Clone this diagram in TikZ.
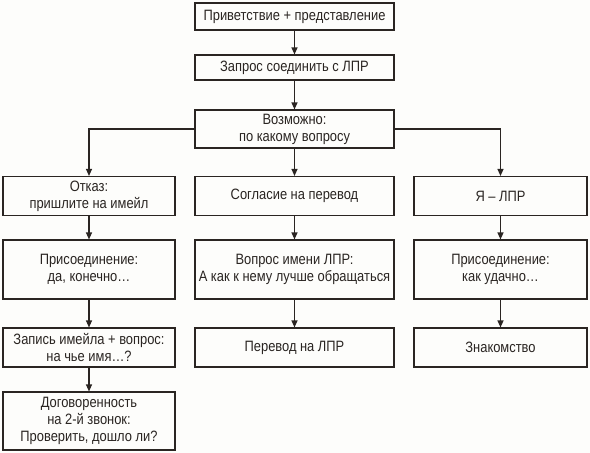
\documentclass[tikz,border=0pt]{standalone}
\usepackage{fontspec}
\setmainfont{Liberation Sans}[FakeStretch=0.86]
\usetikzlibrary{arrows.meta}
\definecolor{bg}{HTML}{FDFDFB}
\definecolor{ink}{HTML}{2A2522}
\begin{document}
\begin{tikzpicture}[x=1pt,y=-1pt,
  box/.style={draw=ink,line width=1.1pt,inner sep=0pt,align=center,text=ink,
    font=\fontsize{15}{17}\selectfont},
  conn/.style={draw=ink,line width=1.1pt,-{Triangle[length=7pt,width=6pt]}}]
\fill[bg] (0,0) rectangle (590,453);
\useasboundingbox (0,0) rectangle (590,453);
% top column
\node[box,minimum width=199pt,minimum height=27pt] (b1) at (294.5,16.5) {Приветствие + представление};
\node[box,minimum width=199pt,minimum height=25pt] (b2) at (294.5,67.5) {Запрос соединить с ЛПР};
\node[box,minimum width=199pt,minimum height=38pt] (b3) at (294.5,129) {Возможно:\\по какому вопросу};
% left column
\node[box,minimum width=172pt,minimum height=39pt] (l1) at (89,196) {Отказ:\\пришлите на имейл};
\node[box,minimum width=172pt,minimum height=59pt] (l2) at (89,269.5) {Присоединение:\\да, конечно…};
\node[box,minimum width=172pt,minimum height=39pt] (l3) at (89,347.5) {Запись имейла + вопрос:\\на чье имя…?};
\node[box,minimum width=172pt,minimum height=58pt] (l4) at (89,421) {Договоренность\\на 2-й звонок:\\Проверить, дошло ли?};
% middle column
\node[box,minimum width=199pt,minimum height=39pt] (m1) at (294.5,196) {Согласие на перевод};
\node[box,minimum width=199pt,minimum height=59pt] (m2) at (294.5,269.5) {Вопрос имени ЛПР:\\А как к нему лучше обращаться};
\node[box,minimum width=199pt,minimum height=39pt] (m3) at (294.5,347.5) {Перевод на ЛПР};
% right column
\node[box,minimum width=173pt,minimum height=39pt] (r1) at (500.5,196) {Я – ЛПР};
\node[box,minimum width=173pt,minimum height=59pt] (r2) at (500.5,269.5) {Присоединение:\\как удачно…};
\node[box,minimum width=173pt,minimum height=39pt] (r3) at (500.5,347.5) {Знакомство};
% connectors
\draw[conn] (b1) -- (b2);
\draw[conn] (b2) -- (b3);
\draw[conn] (b3) -- (m1);
\draw[conn] (b3.west) -| (l1.north);
\draw[conn] (b3.east) -| (r1.north);
\draw[conn] (l1) -- (l2);
\draw[conn] (l2) -- (l3);
\draw[conn] (l3) -- (l4);
\draw[conn] (m1) -- (m2);
\draw[conn] (m2) -- (m3);
\draw[conn] (r1) -- (r2);
\draw[conn] (r2) -- (r3);
\end{tikzpicture}
\end{document}
